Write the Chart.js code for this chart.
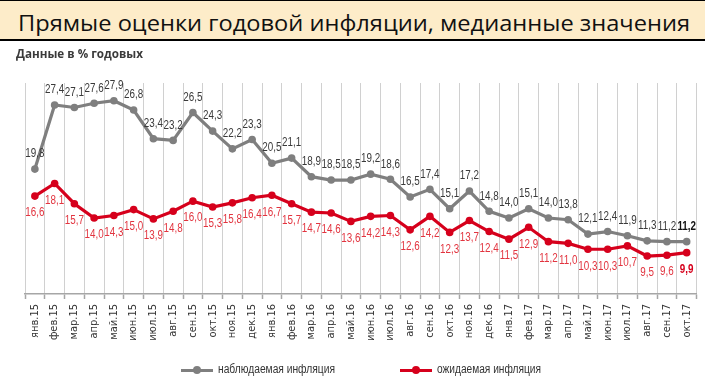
<!DOCTYPE html>
<html><head><meta charset="utf-8">
<script src="https://cdn.jsdelivr.net/npm/chart.js@4.4.1/dist/chart.umd.min.js"></script>
<style>
html,body{margin:0;padding:0;background:#fff;width:705px;height:384px;overflow:hidden;}
#title{position:absolute;left:0;top:0;width:705px;height:41px;background:#fdecc9;border-top:1px solid #000;border-bottom:2px solid #000;box-sizing:border-box;}
.fit{position:absolute;white-space:nowrap;transform-origin:0 50%;}
#tt{left:18px;top:10px;font-family:"Open Sans",sans-serif;font-size:22px;line-height:22px;color:#111;}
#sub{left:16px;top:45px;font-family:"Open Sans",sans-serif;font-size:12.5px;font-weight:700;color:#3a3a3a;}
#wrap{position:absolute;left:0;top:0;width:705px;height:384px;}
.leg{position:absolute;top:363px;height:14px;}
.leg i{position:absolute;left:0;top:6px;width:32px;height:3px;}
.leg i b{position:absolute;left:12px;top:-3px;width:8px;height:8px;border-radius:50%;}
.leg span{left:37px;top:-1px;font-family:"Liberation Sans",Arial,sans-serif;font-size:12px;color:#333;}
</style></head>
<body>
<div id="wrap"><canvas id="c" width="705" height="384"></canvas></div>
<div id="title"><span id="tt" class="fit" data-w="672">Прямые оценки годовой инфляции, медианные значения</span></div>
<span id="sub" class="fit" data-w="127">Данные в % годовых</span>
<div class="leg" style="left:181px"><i style="background:#7f7f7f"><b style="background:#7f7f7f"></b></i><span id="l1" class="fit" data-w="117"></span></div>
<div class="leg" style="left:400px"><i style="background:#d6001c"><b style="background:#d6001c"></b></i><span id="l2" class="fit" data-w="104"></span></div>
<script>
const months = ["янв.15","фев.15","мар.15","апр.15","май.15","июн.15","июл.15","авг.15","сен.15","окт.15","ноя.15","дек.15",
"янв.16","фев.16","мар.16","апр.16","май.16","июн.16","июл.16","авг.16","сен.16","окт.16","ноя.16","дек.16",
"янв.17","фев.17","мар.17","апр.17","май.17","июн.17","июл.17","авг.17","сен.17","окт.17"];
const observed = [19.8,27.4,27.1,27.6,27.9,26.8,23.4,23.2,26.5,24.3,22.2,23.3,
20.5,21.1,18.9,18.5,18.5,19.2,18.6,16.5,17.4,15.1,17.2,14.8,
14.0,15.1,14.0,13.8,12.1,12.4,11.9,11.3,11.2,11.2];
const expected = [16.6,18.1,15.7,14.0,14.3,15.0,13.9,14.8,16.0,15.3,15.8,16.4,
16.7,15.7,14.7,14.6,13.6,14.2,14.3,12.6,14.2,12.3,13.7,12.4,
11.5,12.9,11.2,11.0,10.3,10.3,10.7,9.5,9.6,9.9];
const seriesNames = ["наблюдаемая инфляция","ожидаемая инфляция"];

document.getElementById('l1').textContent = seriesNames[0];
document.getElementById('l2').textContent = seriesNames[1];
document.querySelectorAll('.fit').forEach(el=>{
  const w = el.getBoundingClientRect().width;
  el.style.transform = 'scaleX(' + (parseFloat(el.dataset.w)/w) + ')';
});

const labelPlugin = {
  id:'vals',
  afterDatasetsDraw(chart){
    const ctx = chart.ctx;
    chart.data.datasets.forEach((ds,di)=>{
      const meta = chart.getDatasetMeta(di);
      meta.data.forEach((pt,i)=>{
        const v = ds.data[i];
        const last = i === ds.data.length-1;
        const txt = v.toFixed(1).replace('.',',');
        ctx.save();
        ctx.font = (last?'bold ':'') + '12px "Liberation Sans",Arial,sans-serif';
        ctx.textAlign='center'; ctx.textBaseline='middle';
        const y = di===0 ? pt.y-15 : pt.y+17;
        ctx.translate(pt.x, y);
        ctx.scale(0.82,1);
        ctx.fillStyle = di===0 ? (last ? '#111' : '#3a3a3a') : (last ? '#d6001c' : '#e2343f');
        ctx.fillText(txt, 0, 0);
        ctx.restore();
      });
    });
  }
};

new Chart(document.getElementById('c'),{
  type:'line',
  data:{labels:months,datasets:[
    {label:seriesNames[0],data:observed,borderColor:'#7f7f7f',backgroundColor:'#7f7f7f',borderWidth:3.2,pointRadius:3.8,pointBorderWidth:0,tension:0},
    {label:seriesNames[1],data:expected,borderColor:'#d6001c',backgroundColor:'#d6001c',borderWidth:3.2,pointRadius:3.8,pointBorderWidth:0,tension:0}
  ]},
  options:{
    responsive:false,animation:false,
    layout:{padding:{left:25,right:8,top:83,bottom:0}},
    plugins:{legend:{display:false},tooltip:{enabled:false}},
    scales:{
      x:{type:'category',offset:true,
        grid:{offset:true,color:'#d0d0d0',lineWidth:1,borderDash:[4,3],tickLength:5,tickColor:'#a6a6a6',tickBorderDash:[],tickWidth:1.5,drawOnChartArea:true},
        border:{display:true,color:'#a6a6a6',width:1.5},
        ticks:{minRotation:90,maxRotation:90,autoSkip:false,color:'#333',padding:5,font:{family:'"DejaVu Sans Condensed","DejaVu Sans",sans-serif',size:11}},
        afterFit(s){ s.height = 90; }
      },
      y:{display:false,min:5,max:30}
    }
  },
  plugins:[labelPlugin]
});
</script>
</body></html>
